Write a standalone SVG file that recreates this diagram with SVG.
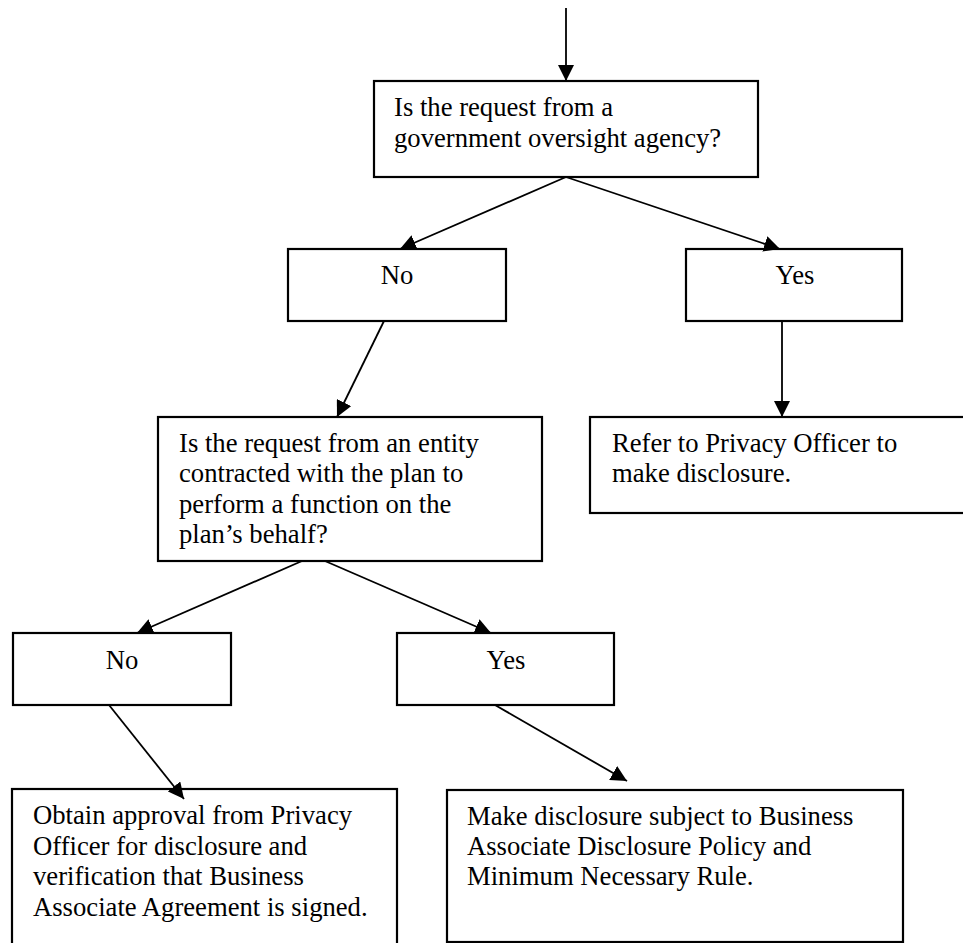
<svg xmlns="http://www.w3.org/2000/svg" width="963" height="943" viewBox="0 0 963 943">
<style>
.box{fill:#fff;stroke:#000;stroke-width:2.2}
.t{font-family:"Liberation Serif","Times New Roman",serif;font-size:26.67px;fill:#000}
.c{text-anchor:middle}
.ln{stroke:#000;stroke-width:1.8;fill:none;marker-end:url(#ah)}
</style>
<defs>
<marker id="ah" markerUnits="userSpaceOnUse" markerWidth="18" markerHeight="16" refX="16" refY="8" orient="auto">
<path d="M0,0 L16,8 L0,16 z" fill="#000"/>
</marker>
</defs>
<rect width="963" height="943" fill="#fff"/>
<g id="q1">
<rect class="box" x="374" y="81" width="384" height="96"/>
<text class="t" x="394" y="116">Is the request from a</text>
<text class="t" x="394" y="147">government oversight agency?</text>
</g>
<g id="no1">
<rect class="box" x="288" y="249" width="218" height="72"/>
<text class="t c" x="397" y="284">No</text>
</g>
<g id="yes1">
<rect class="box" x="686" y="249" width="216" height="72"/>
<text class="t c" x="795" y="284">Yes</text>
</g>
<g id="q2">
<rect class="box" x="158" y="417" width="384" height="144"/>
<text class="t" x="179" y="452">Is the request from an entity</text>
<text class="t" x="179" y="482">contracted with the plan to</text>
<text class="t" x="179" y="513">perform a function on the</text>
<text class="t" x="179" y="543">plan’s behalf?</text>
</g>
<g id="refer">
<rect class="box" x="590" y="417" width="390" height="96"/>
<text class="t" x="612" y="452">Refer to Privacy Officer to</text>
<text class="t" x="612" y="482">make disclosure.</text>
</g>
<g id="no2">
<rect class="box" x="13" y="633" width="218" height="72"/>
<text class="t c" x="122" y="669">No</text>
</g>
<g id="yes2">
<rect class="box" x="397" y="633" width="217" height="72"/>
<text class="t c" x="506" y="669">Yes</text>
</g>
<g id="obtain">
<rect class="box" x="12" y="789" width="385" height="170"/>
<text class="t" x="33" y="824">Obtain approval from Privacy</text>
<text class="t" x="33" y="855">Officer for disclosure and</text>
<text class="t" x="33" y="885">verification that Business</text>
<text class="t" x="33" y="916">Associate Agreement is signed.</text>
</g>
<g id="make">
<rect class="box" x="447" y="790" width="456" height="152"/>
<text class="t" x="467" y="825">Make disclosure subject to Business</text>
<text class="t" x="467" y="855">Associate Disclosure Policy and</text>
<text class="t" x="467" y="885">Minimum Necessary Rule.</text>
</g>
<g id="connectors">
<line class="ln" x1="566" y1="8" x2="566" y2="81"/>
<line class="ln" x1="566" y1="177" x2="400" y2="249"/>
<line class="ln" x1="566" y1="177" x2="780" y2="249"/>
<line class="ln" x1="384" y1="321" x2="337" y2="417"/>
<line class="ln" x1="782" y1="321" x2="782" y2="417"/>
<line class="ln" x1="302" y1="561" x2="137" y2="633"/>
<line class="ln" x1="325" y1="561" x2="491" y2="633"/>
<line class="ln" x1="109" y1="705" x2="184" y2="799"/>
<line class="ln" x1="495" y1="705" x2="627" y2="781"/>
</g>
</svg>
